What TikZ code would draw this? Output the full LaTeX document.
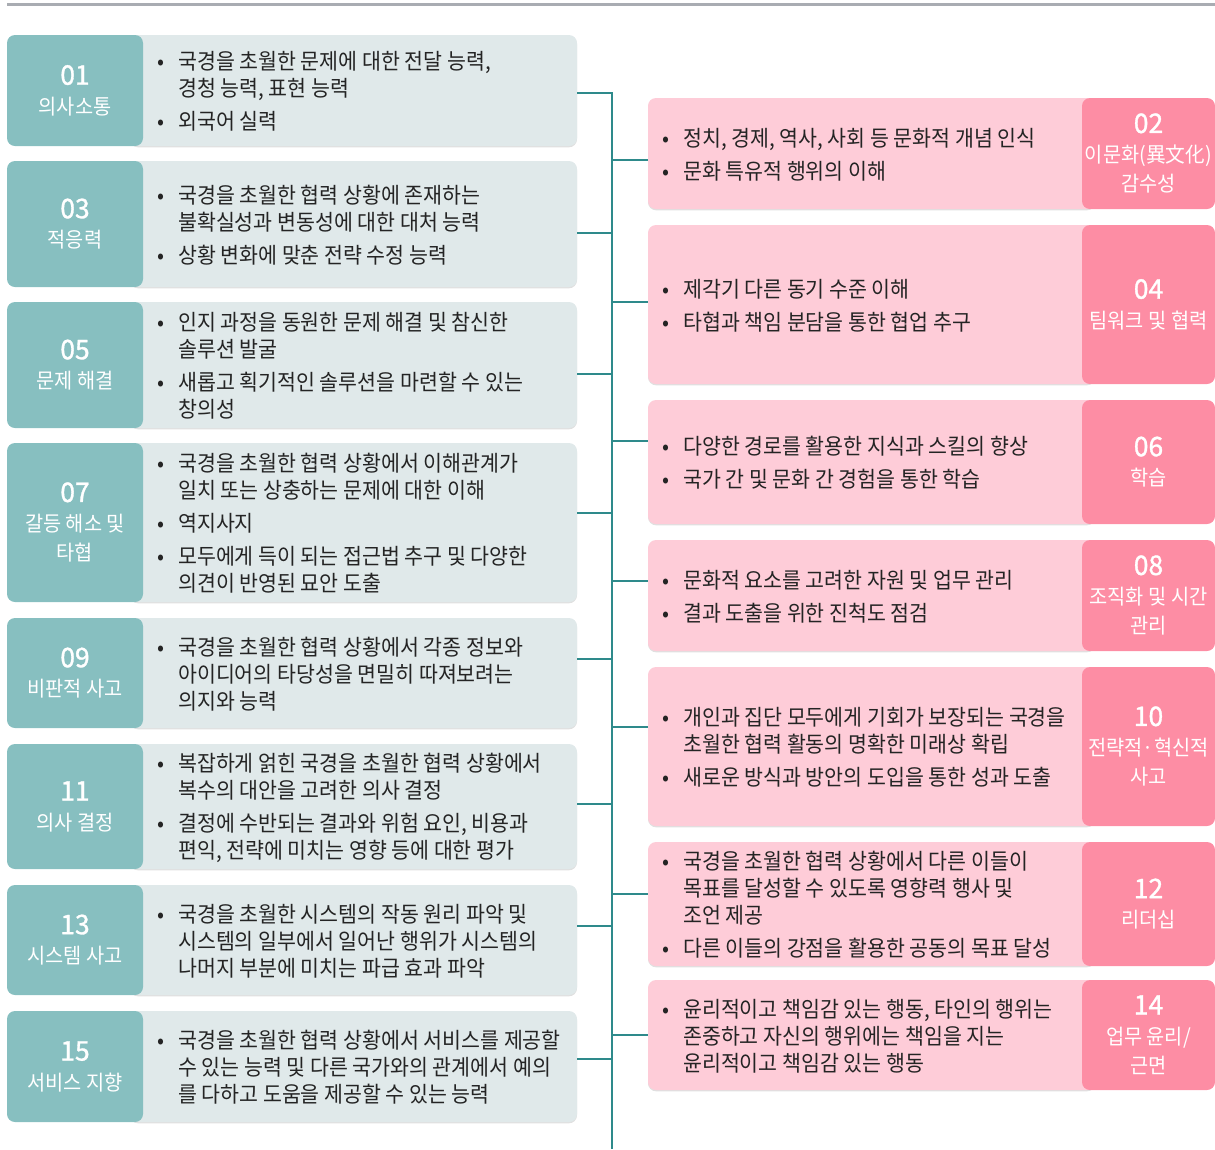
\documentclass[tikz,border=0pt]{standalone}
\usepackage{fontspec}
\newfontfamily\kr[FakeStretch=0.935]{Noto Sans CJK KR}
\newfontfamily\krlab[FakeStretch=0.94]{Noto Sans CJK KR}
\newfontfamily\krnum[FakeStretch=0.98,FakeBold=1.2]{Noto Sans CJK KR}
\usetikzlibrary{shadows}
\definecolor{tealbox}{HTML}{87BFC0}
\definecolor{graybox}{HTML}{E0E9EA}
\definecolor{pinkbox}{HTML}{FECCD8}
\definecolor{pinklab}{HTML}{FD8DA4}
\definecolor{linec}{HTML}{2E8A8B}
\definecolor{topc}{HTML}{A9ACB2}
\definecolor{txt}{HTML}{242424}
\newcommand{\bodyf}{\kr\fontsize{22}{27}\selectfont}
\newcommand{\labf}{\krlab\fontsize{21}{29.5}\selectfont}
\newcommand{\numf}{\krnum\fontsize{27}{29.5}\selectfont}
\newcommand{\itm}{\makebox[21pt][l]{•}}
\newcommand{\cnt}{\hspace*{21pt}}
\tikzset{
  boxbase/.style={rectangle, rounded corners=8pt, inner sep=0pt},
  lcont/.style={boxbase, fill=graybox, minimum width=447pt,
    drop shadow={shadow xshift=0pt, shadow yshift=-1.3pt, opacity=0.35, fill=black!35}},
  rcont/.style={boxbase, fill=pinkbox, minimum width=447pt,
    drop shadow={shadow xshift=0pt, shadow yshift=-1.3pt, opacity=0.35, fill=black!35}},
  llab/.style={boxbase, fill=tealbox, minimum width=136pt, text=white, align=center, font=\labf},
  rlab/.style={boxbase, fill=pinklab, minimum width=133pt, text=white, align=center, font=\labf},
  body/.style={anchor=west, inner sep=0pt, align=left, font=\bodyf, text=txt},
  conn/.style={draw=linec, line width=2.2pt},
  topline/.style={draw=topc, line width=3pt}
}
\newcommand{\Lbox}[6]{%
  \node[lcont, minimum height={#3-#2}] (c#1) at (353.5,{(#2+#3)/2}) {};
  \node[llab, minimum height={#3-#2}] (l#1) at (75,{(#2+#3)/2}) {#4};
  \node[body] (t#1) at (157,{(#2+#3)/2+1}) {#5};
  \coordinate (j#1) at (612,#6);
}
\newcommand{\Rbox}[6]{%
  \node[rcont, minimum height={#3-#2}] (c#1) at (871.5,{(#2+#3)/2}) {};
  \node[rlab, minimum height={#3-#2}] (l#1) at (1148.5,{(#2+#3)/2}) {#4};
  \node[body] (t#1) at (662,{(#2+#3)/2+1}) {#5};
  \coordinate (j#1) at (612,#6);
}
\begin{document}
\begin{tikzpicture}[x=1pt,y=-1pt]
\useasboundingbox (0,0) rectangle (1215,1149);
\coordinate (tl) at (7,4.5);
\coordinate (tr) at (1215,4.5);
\draw[topline] (tl) -- (tr);

% left column
\Lbox{01}{35}{146}{{\numf 01}\\의사소통}{\itm 국경을 초월한 문제에 대한 전달 능력,\\ \cnt 경청 능력, 표현 능력\\[6pt] \itm 외국어 실력}{93}
\Lbox{03}{161}{287}{{\numf 03}\\적응력}{\itm 국경을 초월한 협력 상황에 존재하는\\ \cnt 불확실성과 변동성에 대한 대처 능력\\[6pt] \itm 상황 변화에 맞춘 전략 수정 능력}{233}
\Lbox{05}{302}{428}{{\numf 05}\\문제 해결}{\itm 인지 과정을 동원한 문제 해결 및 참신한\\ \cnt 솔루션 발굴\\[6pt] \itm 새롭고 획기적인 솔루션을 마련할 수 있는\\ \cnt 창의성}{374}
\Lbox{07}{443}{602}{{\numf 07}\\갈등 해소 및\\타협}{\itm 국경을 초월한 협력 상황에서 이해관계가\\ \cnt 일치 또는 상충하는 문제에 대한 이해\\[6pt] \itm 역지사지\\[6pt] \itm 모두에게 득이 되는 접근법 추구 및 다양한\\ \cnt 의견이 반영된 묘안 도출}{513}
\Lbox{09}{618}{728}{{\numf 09}\\비판적 사고}{\itm 국경을 초월한 협력 상황에서 각종 정보와\\ \cnt 아이디어의 타당성을 면밀히 따져보려는\\ \cnt 의지와 능력}{659}
\Lbox{11}{744}{869}{{\numf 11}\\의사 결정}{\itm 복잡하게 얽힌 국경을 초월한 협력 상황에서\\ \cnt 복수의 대안을 고려한 의사 결정\\[6pt] \itm 결정에 수반되는 결과와 위험 요인, 비용과\\ \cnt 편익, 전략에 미치는 영향 등에 대한 평가}{804}
\Lbox{13}{885}{995}{{\numf 13}\\시스템 사고}{\itm 국경을 초월한 시스템의 작동 원리 파악 및\\ \cnt 시스템의 일부에서 일어난 행위가 시스템의\\ \cnt 나머지 부분에 미치는 파급 효과 파악}{926}
\Lbox{15}{1011}{1122}{{\numf 15}\\서비스 지향}{\itm 국경을 초월한 협력 상황에서 서비스를 제공할\\ \cnt 수 있는 능력 및 다른 국가와의 관계에서 예의\\ \cnt 를 다하고 도움을 제공할 수 있는 능력}{1059}

% right column
\Rbox{02}{98}{209}{{\numf 02}\\이문화(異文化)\\감수성}{\itm 정치, 경제, 역사, 사회 등 문화적 개념 인식\\[6pt] \itm 문화 특유적 행위의 이해}{160}
\Rbox{04}{225}{384}{{\numf 04}\\팀워크 및 협력}{\itm 제각기 다른 동기 수준 이해\\[6pt] \itm 타협과 책임 분담을 통한 협업 추구}{302}
\Rbox{06}{400}{524}{{\numf 06}\\학습}{\itm 다양한 경로를 활용한 지식과 스킬의 향상\\[6pt] \itm 국가 간 및 문화 간 경험을 통한 학습}{441}
\Rbox{08}{540}{651}{{\numf 08}\\조직화 및 시간\\관리}{\itm 문화적 요소를 고려한 자원 및 업무 관리\\[6pt] \itm 결과 도출을 위한 진척도 점검}{581}
\Rbox{10}{667}{826}{{\numf 10}\\전략적·혁신적\\사고}{\itm 개인과 집단 모두에게 기회가 보장되는 국경을\\ \cnt 초월한 협력 활동의 명확한 미래상 확립\\[6pt] \itm 새로운 방식과 방안의 도입을 통한 성과 도출}{727}
\Rbox{12}{842}{966}{{\numf 12}\\리더십}{\itm 국경을 초월한 협력 상황에서 다른 이들이\\ \cnt 목표를 달성할 수 있도록 영향력 행사 및\\ \cnt 조언 제공\\[6pt] \itm 다른 이들의 강점을 활용한 공동의 목표 달성}{894}
\Rbox{14}{980}{1090}{{\numf 14}\\업무 윤리/\\근면}{\itm 윤리적이고 책임감 있는 행동, 타인의 행위는\\ \cnt 존중하고 자신의 행위에는 책임을 지는\\ \cnt 윤리적이고 책임감 있는 행동}{1035}

% connectors
\coordinate (bot) at (612,1149);
\draw[conn] (c01.east |- j01) -- (j01) -- (bot);
\foreach \i in {03,05,07,09,11,13,15}{
  \draw[conn] (c\i.east |- j\i) -- (j\i);
}
\foreach \i in {02,04,06,08,10,12,14}{
  \draw[conn] (j\i) -- (c\i.west |- j\i);
}
\end{tikzpicture}
\end{document}
